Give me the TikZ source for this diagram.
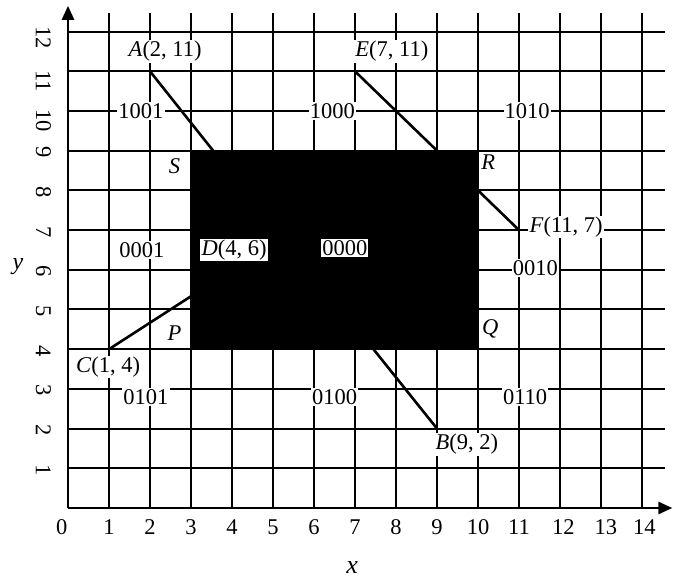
\documentclass[tikz,border=0pt]{standalone}
\usepackage{fontspec}
\setmainfont{Liberation Serif}
\usetikzlibrary{arrows.meta}
\begin{document}
\begin{tikzpicture}[x=41pt,y=39.7pt,
  gridline/.style={line width=2pt,black},
  axisline/.style={line width=2.6pt,black,-{Triangle[length=14pt,width=12pt]}},
  segline/.style={line width=2.6pt,black},
  lbl/.style={font=\fontsize{22.5}{24}\selectfont,inner sep=1.2pt},
  wlbl/.style={lbl,fill=white},
  tick/.style={font=\fontsize{22.5}{24}\selectfont,inner sep=0pt},
  ytick/.style={tick,rotate=-90}]
\useasboundingbox (-68pt,-71pt) rectangle (605pt,508pt);
% grid
\foreach \i in {1,...,14} \draw[gridline] (\i,0) -- (\i,12.47);
\foreach \j in {1,...,12} \draw[gridline] (0,\j) -- (14.56,\j);
% axes
\coordinate (O) at (0,0);
\coordinate (ytop) at (0,12.65);
\coordinate (xend) at (14.74,0);
\draw[axisline] (O) -- (ytop);
\draw[axisline] (O) -- (xend);
% points
\coordinate (A) at (2,11);
\coordinate (B) at (9,2);
\coordinate (C) at (1,4);
\coordinate (D) at (4,6);
\coordinate (E) at (7,11);
\coordinate (F) at (11,7);
\coordinate (A9) at (3.54,9);
\coordinate (B4) at (7.45,4);
\draw[segline] (A) -- (A9);
\draw[segline] (C) -- (D);
\draw[segline] (E) -- (F);
\draw[segline] (B) -- (B4);
% window
\fill[black] (3,4) rectangle (10,9);
% tick labels
\node[tick] (x0) at (-0.15,-0.48) {0};
\foreach \i in {1,...,11} \node[tick] (x\i) at (\i,-0.48) {\i};
\node[tick] (x12) at (12.08,-0.48) {12};
\node[tick] (x13) at (13.12,-0.48) {13};
\node[tick] (x14) at (14.06,-0.48) {14};
\foreach \j in {1,...,9} \node[ytick] (y\j) at (-0.6,\j-0.04) {\j};
\node[ytick] (y10) at (-0.6,9.75) {10};
\node[ytick] (y11) at (-0.6,10.75) {11};
\node[ytick] (y12) at (-0.6,11.84) {12};
\node[font=\fontsize{24}{26}\selectfont\itshape] (ylab) at (-1.22,6.07) {y};
\node[font=\fontsize{26}{28}\selectfont\itshape] (xlab) at (6.93,-1.49) {x};
% point labels
\node[wlbl] (lA) at (2.37,11.5) {\textit{A}(2, 11)};
\node[wlbl] (lE) at (7.9,11.5) {\textit{E}(7, 11)};
\node[wlbl] (lF) at (12.15,7.08) {\textit{F}(11, 7)};
\node[wlbl] (lC) at (0.98,3.55) {\textit{C}(1, 4)};
\node[wlbl] (lB) at (9.73,1.6) {\textit{B}(9, 2)};
\node[wlbl] (lD) at (4.05,6.5) {\textit{D}(4, 6)};
% corner labels
\node[lbl] (lS) at (2.6,8.6) {\textit{S}};
\node[lbl] (lR) at (10.25,8.7) {\textit{R}};
\node[lbl] (lP) at (2.6,4.4) {\textit{P}};
\node[lbl] (lQ) at (10.3,4.5) {\textit{Q}};
% region codes
\node[wlbl] (r1001) at (1.78,10) {1001};
\node[wlbl] (r1000) at (6.45,10) {1000};
\node[wlbl] (r1010) at (11.2,10) {1010};
\node[wlbl] (r0001) at (1.8,6.5) {0001};
\node[wlbl] (r0000) at (6.75,6.55) {0000};
\node[wlbl] (r0010) at (11.4,6.05) {0010};
\node[wlbl] (r0101) at (1.9,2.8) {0101};
\node[wlbl] (r0100) at (6.5,2.8) {0100};
\node[wlbl] (r0110) at (11.15,2.8) {0110};
\end{tikzpicture}
\end{document}
